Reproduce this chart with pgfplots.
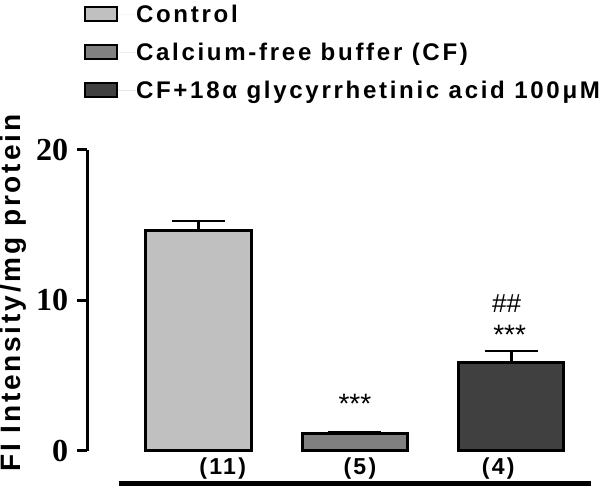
\documentclass[border=0pt]{standalone}
\usepackage{fontspec}
\setmainfont{Liberation Sans}
\newfontfamily\spaced[LetterSpace=10]{Liberation Sans}
\newfontfamily\legfont[LetterSpace=11.2]{Liberation Sans}
\newfontfamily\tickfont{Liberation Serif}
\usepackage{pgfplots}
\pgfplotsset{compat=1.18}

\definecolor{ctrl}{RGB}{192,192,192}
\definecolor{cfree}{RGB}{128,128,128}
\definecolor{glyc}{RGB}{64,64,64}

\pgfplotsset{
  boxlegend/.style={legend image code/.code={
      \draw[fill=#1, draw=black, line width=1.2pt] (0pt,-3.5pt) rectangle (16pt,3.5pt);
      \path[draw=none] (16pt,0pt) -- (25.5pt,0pt);}},
  errstyle/.style={error bars/.cd, y dir=plus, y explicit,
      error bar style={line width=1.3pt},
      error mark options={rotate=90, mark size=13.25pt, line width=1.3pt}},
}

\begin{document}
\begin{tikzpicture}
\begin{axis}[
    scale only axis,
    width=252pt, height=150pt,
    xmin=-0.7115, xmax=2.52,
    ymin=0, ymax=20,
    clip=false,
    hide x axis,
    axis y line*=left,
    y axis line style={line width=1.6pt},
    ytick={0,10,20},
    tick align=outside,
    major tick length=5pt,
    ytick style={line width=1.5pt, black},
    /pgf/number format/assume math mode=true,
    yticklabel style={font=\tickfont\bfseries\fontsize{16}{16}\selectfont, xshift=-1pt},
    ylabel={FI Intensity/mg protein},
    every axis y label/.style={at={(rel axis cs:0,0.5)}, xshift=-37pt, yshift=3.5pt, anchor=center, rotate=90,
        inner sep=0pt, font=\spaced\bfseries\fontsize{14}{16}\selectfont},
    legend style={draw=none, fill=none, at={(-0.008,1.5)}, anchor=north west,
        font=\legfont\bfseries\fontsize{12}{14}\selectfont, row sep=5pt, inner sep=0pt,
        nodes={inner xsep=0pt, inner ysep=0pt, text height=11pt, text depth=3pt}},
    legend cell align=left,
    bar width=52.5pt,
]
\addplot[ybar, bar shift=0pt, fill=ctrl, draw=black, line width=1.5pt, boxlegend=ctrl, errstyle]
    coordinates {(0,14.67) +- (0,0.60)};
\addlegendentry{Control}
\addplot[ybar, bar shift=0pt, fill=cfree, draw=black, line width=1.5pt, boxlegend=cfree, errstyle]
    coordinates {(1,1.15) +- (0,0.10)};
\addlegendentry{Calcium-free buffer (CF)}
\addplot[ybar, bar shift=0pt, fill=glyc, draw=black, line width=1.5pt, boxlegend=glyc, errstyle]
    coordinates {(2,5.84) +- (0,0.78)};
\addlegendentry{CF+18α glycyrrhetinic acid 100μM}

% significance marks and group sizes
\node[font=\fontsize{14}{14}\selectfont] at (axis cs:1.0,3.1) {***};
\node[font=\fontsize{14}{14}\selectfont] at (axis cs:1.99,7.7) {***};
\node[font=\fontsize{13}{13}\selectfont] at (axis cs:1.97,9.75) {\#\#};
\node[font=\spaced\bfseries\fontsize{11.5}{11.5}\selectfont] at (axis cs:0.154,-1.2) {(11)};
\node[font=\spaced\bfseries\fontsize{11.5}{11.5}\selectfont] at (axis cs:1.032,-1.2) {(5)};
\node[font=\spaced\bfseries\fontsize{11.5}{11.5}\selectfont] at (axis cs:1.917,-1.2) {(4)};
\draw[line width=2.5pt] (axis cs:-0.506,-2.2) -- (axis cs:2.513,-2.2);
\end{axis}
\end{tikzpicture}
\end{document}
